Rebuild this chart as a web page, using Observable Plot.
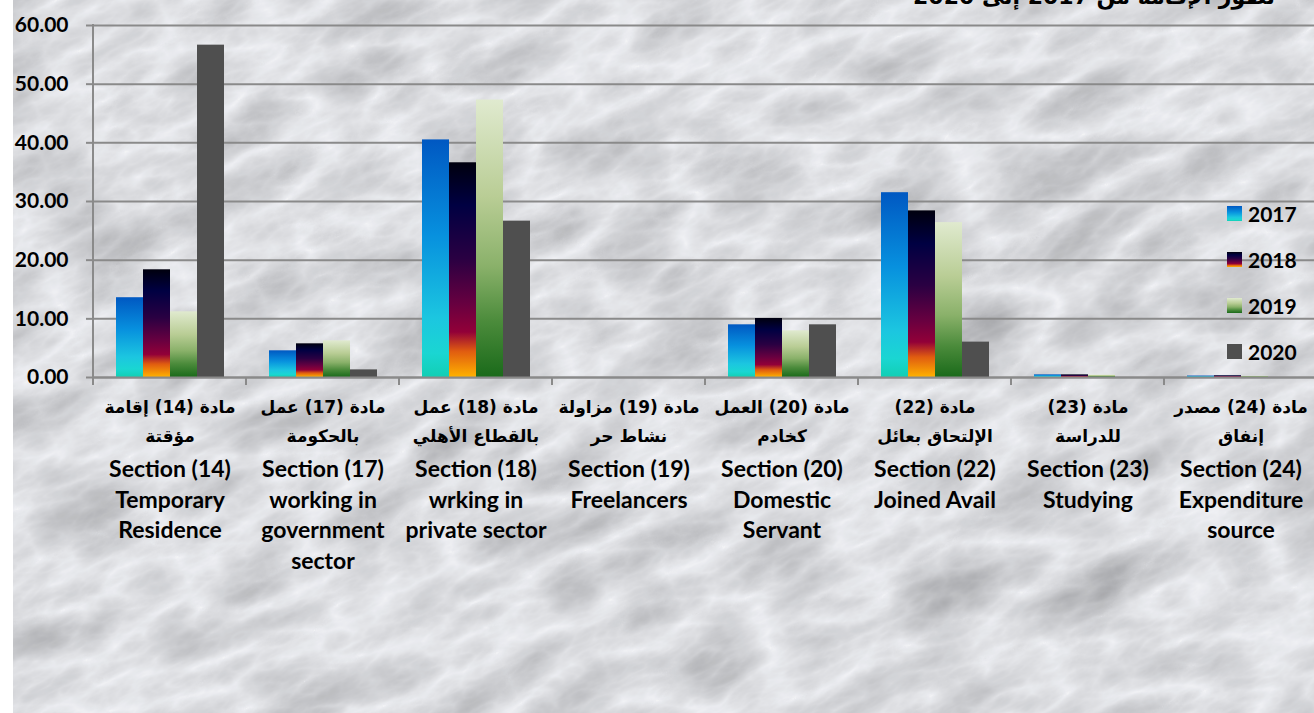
<!DOCTYPE html>
<html><head><meta charset="utf-8">
<script src="https://cdn.jsdelivr.net/npm/d3@7"></script>
<script src="https://cdn.jsdelivr.net/npm/@observablehq/plot@0.6"></script>
<style>
html,body{margin:0;padding:0;width:1314px;height:713px;overflow:hidden;background:#ffffff;}
#bg{position:absolute;left:13px;top:0;}
#chart{position:absolute;left:13px;top:0;width:1301px;height:713px;overflow:hidden;}
#title{position:absolute;top:-14px;right:39px;direction:rtl;font:bold 22px/22px "DejaVu Sans",sans-serif;white-space:nowrap;color:#000;}
#legend{position:absolute;left:1227px;top:190px;font:bold 21px Lato,"DejaVu Sans",sans-serif;color:#000;}
#legend .item{display:flex;align-items:center;height:46px;}
#legend .sw{width:15px;height:15px;margin-right:6px;}
</style></head>
<body>
<svg id="bg" width="1301" height="713">
  <defs>
    <filter id="marble" x="-600" y="-600" width="2600" height="2000" filterUnits="userSpaceOnUse" color-interpolation-filters="sRGB">
      <feTurbulence type="turbulence" baseFrequency="0.008 0.018" numOctaves="5" seed="23"/>
      <feColorMatrix type="matrix" values="-0.3 0 0 0 1.0  -0.3 0 0 0 1.0  -0.3 0 0 0 1.01  0 0 0 0 1"/>
      <feComponentTransfer>
        <feFuncR type="linear" slope="0.95" intercept="0"/>
        <feFuncG type="linear" slope="0.955" intercept="0"/>
        <feFuncB type="linear" slope="0.96" intercept="0"/>
      </feComponentTransfer>
    </filter>
  </defs>
  <g transform="rotate(-25 650 356)">
    <rect x="-600" y="-600" width="2600" height="2000" filter="url(#marble)"/>
  </g>
</svg>
<div id="title">تطور الإقامة من 2017 إلى 2020</div>
<div id="chart"></div>
<div id="legend"></div>
<script>
const sections = ["14","17","18","19","20","22","23","24"];
const categoriesAr = [
  "مادة (14) إقامة\nمؤقتة",
  "مادة (17) عمل\nبالحكومة",
  "مادة (18) عمل\nبالقطاع الأهلي",
  "مادة (19) مزاولة\nنشاط حر",
  "مادة (20) العمل\nكخادم",
  "مادة (22)\nالإلتحاق بعائل",
  "مادة (23)\nللدراسة",
  "مادة (24) مصدر\nإنفاق"
];
const categoriesEn = [
  "Section (14)\nTemporary\nResidence",
  "Section (17)\nworking in\ngovernment\nsector",
  "Section (18)\nwrking in\nprivate sector",
  "Section (19)\nFreelancers",
  "Section (20)\nDomestic\nServant",
  "Section (22)\nJoined Avail",
  "Section (23)\nStudying",
  "Section (24)\nExpenditure\nsource"
];
const years = ["2017","2018","2019","2020"];
const values2017 = [13.6, 4.55, 40.5, 0, 8.98, 31.5, 0.45, 0.25];
const values2018 = [18.36, 5.74, 36.6, 0, 10.06, 28.4, 0.45, 0.3];
const values2019 = [11.2, 6.25, 47.3, 0, 7.96, 26.4, 0.4, 0.2];
const values2020 = [56.65, 1.3, 26.65, 0, 8.98, 6.03, 0, 0];
const yTicks = [0, 10, 20, 30, 40, 50, 60];

const series = [values2017, values2018, values2019, values2020];
const gradients = {
  "2017": [[0,"#0058c2"],[0.4,"#0790de"],[0.75,"#1cc6e0"],[0.9,"#1ad6d2"],[1,"#12cfb4"]],
  "2018": [[0,"#00000e"],[0.2,"#000042"],[0.45,"#2a0042"],[0.66,"#680040"],[0.79,"#920038"],[0.88,"#e05c10"],[1,"#ffb200"]],
  "2019": [[0,"#e0eacf"],[0.35,"#b9cd95"],[0.6,"#8ab16a"],[0.8,"#4b8b3b"],[1,"#1a6a1a"]]
};
const fills = {"2017":"url(#g2017)","2018":"url(#g2018)","2019":"url(#g2019)","2020":"#4f4f4f"};

const rows = [];
sections.forEach((s, i) => years.forEach((yr, j) => rows.push({section: s, year: yr, value: series[j][i]})));

const grid = "#8a8a8a";
const plot = Plot.plot({
  width: 1308, height: 713,
  marginLeft: 78, marginRight: 2, marginTop: 25, marginBottom: 336,
  style: {background: "transparent", overflow: "visible", maxWidth: "none", fontFamily: "Lato, 'DejaVu Sans', sans-serif", color: "#000"},
  fx: {domain: sections, padding: 0, axis: null, label: null},
  x: {domain: years, paddingInner: 0, paddingOuter: 0.75, axis: null, label: null},
  y: {domain: [0, 60], axis: null, label: null},
  marks: [
    Plot.gridY(yTicks, {stroke: grid, strokeOpacity: 1, strokeWidth: 2}),
    Plot.axisY(yTicks, {tickFormat: d => d.toFixed(2), tickSize: 7, tickPadding: 18, stroke: grid, strokeWidth: 2, strokeOpacity: 1, fontSize: 21, fontWeight: "bold", fill: "#000", label: null}),
    ...years.map(yr => Plot.barY(rows.filter(d => d.year === yr), {fx: "section", x: "year", y: "value", fill: fills[yr], inset: 0})),
    Plot.ruleY([0], {stroke: grid, strokeWidth: 2}),
    Plot.text(sections, {fx: d => d, text: (d, i) => categoriesAr[i], frameAnchor: "bottom", lineAnchor: "top", dy: 15, fontSize: 17, fontWeight: "bold", fontFamily: "'DejaVu Sans', sans-serif", lineHeight: 1.7, fill: "#000"}),
    Plot.text(sections, {fx: d => d, text: (d, i) => categoriesEn[i], frameAnchor: "bottom", lineAnchor: "top", dy: 78, fontSize: 23, fontWeight: "bold", lineHeight: 1.33, fill: "#000"})
  ]
});

const svg = d3.select(plot);
const defs = svg.insert("defs", ":first-child");
Object.entries(gradients).forEach(([yr, stops]) => {
  const g = defs.append("linearGradient").attr("id", "g" + yr).attr("x1", 0).attr("y1", 0).attr("x2", 0).attr("y2", 1);
  stops.forEach(([o, c]) => g.append("stop").attr("offset", o).attr("stop-color", c));
});
svg.selectAll("text").filter(function() { return /[\u0600-\u06FF]/.test(this.textContent); }).attr("direction", "rtl");

// category boundary ticks and vertical axis line, from Plot's own scales
const fx = plot.scale("fx"), ys = plot.scale("y");
const y0 = ys.apply(0), yTop = ys.apply(60);
const bounds = sections.map(s => fx.apply(s)).concat([fx.apply(sections[sections.length - 1]) + fx.bandwidth]);
const ax = svg.append("g").attr("stroke", grid).attr("stroke-width", 2);
bounds.forEach(x => ax.append("line").attr("x1", x).attr("x2", x).attr("y1", y0).attr("y2", y0 + 8));
ax.append("line").attr("x1", bounds[0]).attr("x2", bounds[0]).attr("y1", yTop - 1).attr("y2", y0 + 8);

document.getElementById("chart").appendChild(plot);

// legend
const legend = d3.select("#legend");
years.forEach(yr => {
  const it = legend.append("div").attr("class", "item");
  const sw = it.append("div").attr("class", "sw");
  if (gradients[yr]) sw.style("background", "linear-gradient(to bottom," + gradients[yr].map(([o, c]) => c + " " + (o * 100) + "%").join(",") + ")");
  else sw.style("background", fills[yr]);
  it.append("span").text(yr);
});
</script>
</body></html>
